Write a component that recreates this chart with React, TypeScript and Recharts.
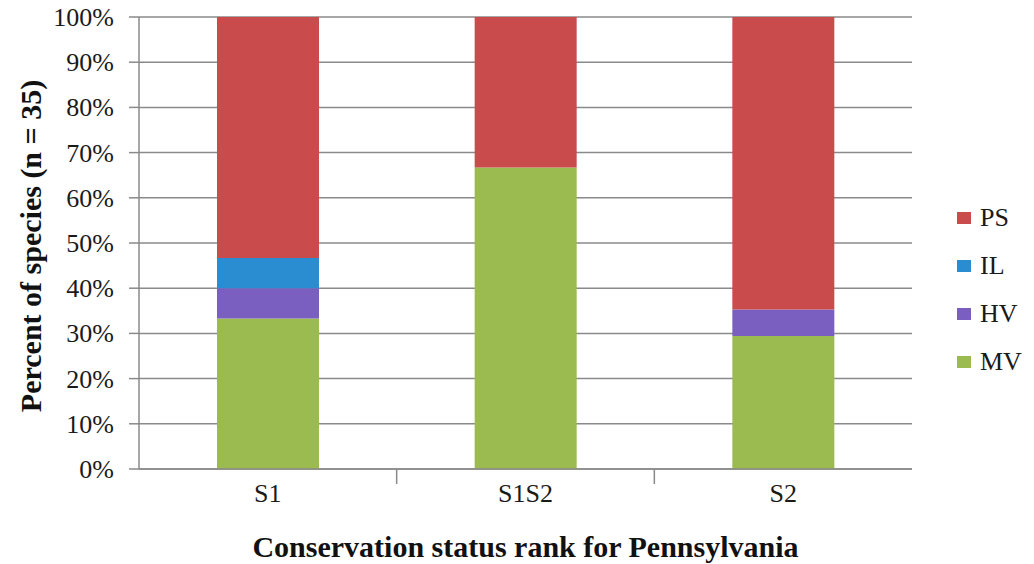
import React from "react";
import { BarChart, Bar, XAxis, YAxis, CartesianGrid } from "recharts";

const categories = ["S1", "S1S2", "S2"];
const mvValues = [33.3, 66.7, 29.4];
const hvValues = [6.7, 0, 5.9];
const ilValues = [6.7, 0, 0];
const psValues = [53.3, 33.3, 64.7];
const yTicks = [0, 10, 20, 30, 40, 50, 60, 70, 80, 90, 100];

const seriesNames = ["MV", "HV", "IL", "PS"];
const colors: Record<string, string> = {
  MV: "#9BBB50",
  HV: "#7A5FC0",
  IL: "#2A8DD2",
  PS: "#C94B4B",
};

const data = categories.map((c, i) => ({
  cat: c,
  MV: mvValues[i],
  HV: hvValues[i],
  IL: ilValues[i],
  PS: psValues[i],
}));

const FONT = "'Liberation Serif', 'Times New Roman', serif";
const GRID = "#8a8a8a";
const W = 1026;
const H = 556;
const M = { top: 9, right: 122, left: 0, bottom: 0 };
const Y_W = 131;
const X_H = 95;
const HALF_BAND = (W - M.right - Y_W) / categories.length / 2;

const XTick = (props: any) => {
  const { x, y, payload, index } = props;
  return (
    <g>
      {index > 0 && (
        <line x1={x - HALF_BAND} x2={x - HALF_BAND} y1={y - 8} y2={y + 7} stroke={GRID} strokeWidth={1.5} />
      )}
      <text x={x} y={y + 25} textAnchor="middle" style={{ fontFamily: FONT }} fontSize={26} fill="#1a1a1a">
        {payload.value}
      </text>
    </g>
  );
};

const YTick = (props: any) => {
  const { x, y, payload } = props;
  return (
    <text x={x} y={y} dy={9} textAnchor="end" style={{ fontFamily: FONT }} fontSize={26} fill="#1a1a1a">
      {`${payload.value}%`}
    </text>
  );
};

export default function App() {
  const plotCx = Y_W + (W - M.right - Y_W) / 2;
  return (
    <div style={{ position: "relative", width: W, height: H }}>
      <BarChart width={W} height={H} data={data} margin={M} barSize={102}>
        <CartesianGrid vertical={false} stroke={GRID} strokeWidth={1.5} />
        <XAxis
          dataKey="cat"
          height={X_H}
          axisLine={{ stroke: GRID, strokeWidth: 1.5 }}
          tickLine={false}
          tick={<XTick />}
          interval={0}
          label={(p: any) => (
            <text x={plotCx} y={549} textAnchor="middle" style={{ fontFamily: FONT }} fontWeight="bold" fontSize={30} fill="#111">
              Conservation status rank for Pennsylvania
            </text>
          )}
        />
        <YAxis
          width={Y_W}
          domain={[0, 100]}
          ticks={yTicks}
          interval={0}
          axisLine={{ stroke: GRID, strokeWidth: 1.5 }}
          tickLine={{ stroke: GRID, strokeWidth: 1.5 }}
          tickSize={10}
          tickMargin={15}
          tick={<YTick />}
          label={(p: any) => (
            <text
              x={22}
              y={238}
              transform="rotate(-90 22 238)"
              textAnchor="middle"
              dominantBaseline="central"
              style={{ fontFamily: FONT }}
              fontWeight="bold"
              fontSize={30}
              fill="#111"
            >
              Percent of species (n = 35)
            </text>
          )}
        />
        {seriesNames.map((s) => (
          <Bar key={s} dataKey={s} stackId="a" fill={colors[s]} isAnimationActive={false} />
        ))}
      </BarChart>
      <div style={{ position: "absolute", left: 949, top: 186, fontFamily: FONT, fontSize: 26, color: "#1a1a1a" }}>
        {[...seriesNames].reverse().map((s) => (
          <div key={s} style={{ display: "flex", alignItems: "center", height: 48 }}>
            <span style={{ display: "inline-block", width: 14, height: 12, background: colors[s], marginRight: 9 }} />
            <span>{s}</span>
          </div>
        ))}
      </div>
    </div>
  );
}
